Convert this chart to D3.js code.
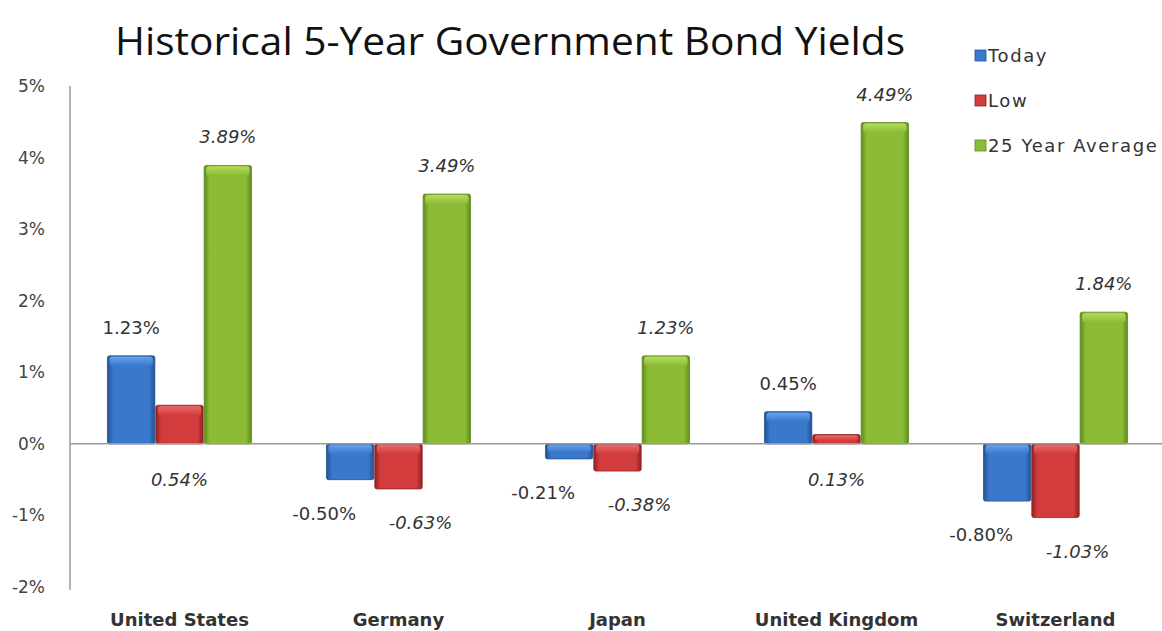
<!DOCTYPE html>
<html>
<head>
<meta charset="utf-8">
<script src="https://cdn.jsdelivr.net/npm/d3@7"></script>
<style>
  body { margin: 0; background: #fff; }
  svg { display: block; font-family: "DejaVu Sans", "Open Sans", sans-serif; }
</style>
</head>
<body>
<svg id="chart" width="1162" height="631"></svg>
<script>
// data
const countries = ["United States", "Germany", "Japan", "United Kingdom", "Switzerland"];
const seriesNames = ["Today", "Low", "25 Year Average"];
const today = [1.23, -0.50, -0.21, 0.45, -0.80];
const low = [0.54, -0.63, -0.38, 0.13, -1.03];
const avg25 = [3.89, 3.49, 1.23, 4.49, 1.84];
const yTicks = [-2, -1, 0, 1, 2, 3, 4, 5];

const colors = [
  {base: "#3a78cc", light: "#6aa6ee", dark: "#23508f"},
  {base: "#d23c3c", light: "#ee7070", dark: "#8f2222"},
  {base: "#8cbc35", light: "#b8e060", dark: "#5f8a1e"}
];

const svg = d3.select("#chart");
const margin = {top: 86, right: 0, bottom: 44, left: 70};
const W = 1162, H = 631;

const y = d3.scaleLinear().domain([-2, 5]).range([587, 86]);
const x0 = d3.scaleBand().domain(countries).range([margin.left, margin.left + 5 * 219]).paddingInner(1/3).paddingOuter(1/6);
const x1 = d3.scaleBand().domain(seriesNames).range([0, x0.bandwidth()]).padding(0.02);

const rows = countries.map((c, i) => ({country: c, vals: [today[i], low[i], avg25[i]]}));

// gradients for the bevelled bars
const defs = svg.append("defs");
colors.forEach((c, i) => {
  const g = defs.append("linearGradient").attr("id", "hg" + i).attr("x1", 0).attr("x2", 1).attr("y1", 0).attr("y2", 0);
  g.append("stop").attr("offset", 0).attr("stop-color", c.dark);
  g.append("stop").attr("offset", 0.12).attr("stop-color", c.base);
  g.append("stop").attr("offset", 0.88).attr("stop-color", c.base);
  g.append("stop").attr("offset", 1).attr("stop-color", c.dark);
  const v = defs.append("linearGradient").attr("id", "vg" + i).attr("x1", 0).attr("x2", 0).attr("y1", 0).attr("y2", 1);
  v.append("stop").attr("offset", 0).attr("stop-color", c.light);
  v.append("stop").attr("offset", 1).attr("stop-color", c.base);
});

// axis line
svg.append("line")
  .attr("x1", margin.left).attr("x2", margin.left)
  .attr("y1", y(5)).attr("y2", y(-2) + 3)
  .attr("stroke", "#9a9a9a").attr("stroke-width", 1.5);

// tick labels
svg.append("g").selectAll("text").data(yTicks).join("text")
  .attr("x", 45).attr("y", d => y(d) + 6)
  .attr("text-anchor", "end")
  .attr("font-size", 17).attr("fill", "#444")
  .text(d => d + "%");

// bars
const groups = svg.append("g").selectAll("g").data(rows).join("g")
  .attr("transform", d => `translate(${x0(d.country)},0)`);

groups.each(function(d) {
  const g = d3.select(this);
  d.vals.forEach((v, si) => {
    const bx = x1(seriesNames[si]), bw = x1.bandwidth();
    const top = y(Math.max(0, v)), bot = y(Math.min(0, v));
    const h = Math.max(bot - top, 1);
    g.append("rect")
      .attr("x", bx).attr("y", top).attr("width", bw).attr("height", h)
      .attr("rx", 2)
      .attr("fill", `url(#hg${si})`)
      .attr("stroke", colors[si].dark).attr("stroke-width", 0.8);
    // lighter bevel along the top edge
    const capH = Math.min(9, h / 2);
    g.append("rect")
      .attr("x", bx + 2).attr("y", top + 1).attr("width", bw - 4).attr("height", capH)
      .attr("rx", 3)
      .attr("fill", `url(#vg${si})`)
      .attr("opacity", 0.9);
  });
});

// zero line
svg.append("line")
  .attr("x1", margin.left).attr("x2", W)
  .attr("y1", y(0)).attr("y2", y(0))
  .attr("stroke", "#9a9a9a").attr("stroke-width", 1.5);

// value labels
groups.each(function(d) {
  const g = d3.select(this);
  d.vals.forEach((v, si) => {
    const cx = x1(seriesNames[si]) + x1.bandwidth() / 2;
    let lx = cx, ly;
    if (v >= 0 && si !== 1) {
      ly = y(v) - 22;
    } else if (v >= 0) {
      ly = y(0) + 42;
    } else {
      ly = y(v) + 40;
      lx = si === 0 ? cx - 26 : cx + 22;
    }
    g.append("text")
      .attr("x", lx).attr("y", ly)
      .attr("text-anchor", "middle")
      .attr("font-size", 18).attr("fill", "#333")
      .attr("font-style", si === 0 ? "normal" : "italic")
      .text(v.toFixed(2) + "%");
  });
});

// category labels
svg.append("g").selectAll("text").data(countries).join("text")
  .attr("x", d => x0(d) + x0.bandwidth() / 2)
  .attr("y", 626)
  .attr("text-anchor", "middle")
  .attr("font-size", 18).attr("font-weight", "bold").attr("fill", "#333")
  .text(d => d);

// title
svg.append("text")
  .attr("x", 510).attr("y", 55)
  .attr("text-anchor", "middle")
  .attr("font-family", "'Open Sans', sans-serif")
  .attr("font-size", 38).attr("fill", "#111")
  .attr("textLength", 790).attr("lengthAdjust", "spacingAndGlyphs")
  .text("Historical 5-Year Government Bond Yields");

// legend
const legend = svg.append("g").selectAll("g").data(seriesNames).join("g")
  .attr("transform", (d, i) => `translate(975,${50 + i * 45})`);
legend.append("rect")
  .attr("width", 11).attr("height", 11)
  .attr("fill", (d, i) => colors[i].base)
  .attr("stroke", (d, i) => colors[i].dark).attr("stroke-width", 0.8);
legend.append("text")
  .attr("x", 13).attr("y", 12)
  .attr("font-size", 18).attr("letter-spacing", 1.6).attr("fill", "#333")
  .text(d => d);
</script>
</body>
</html>
